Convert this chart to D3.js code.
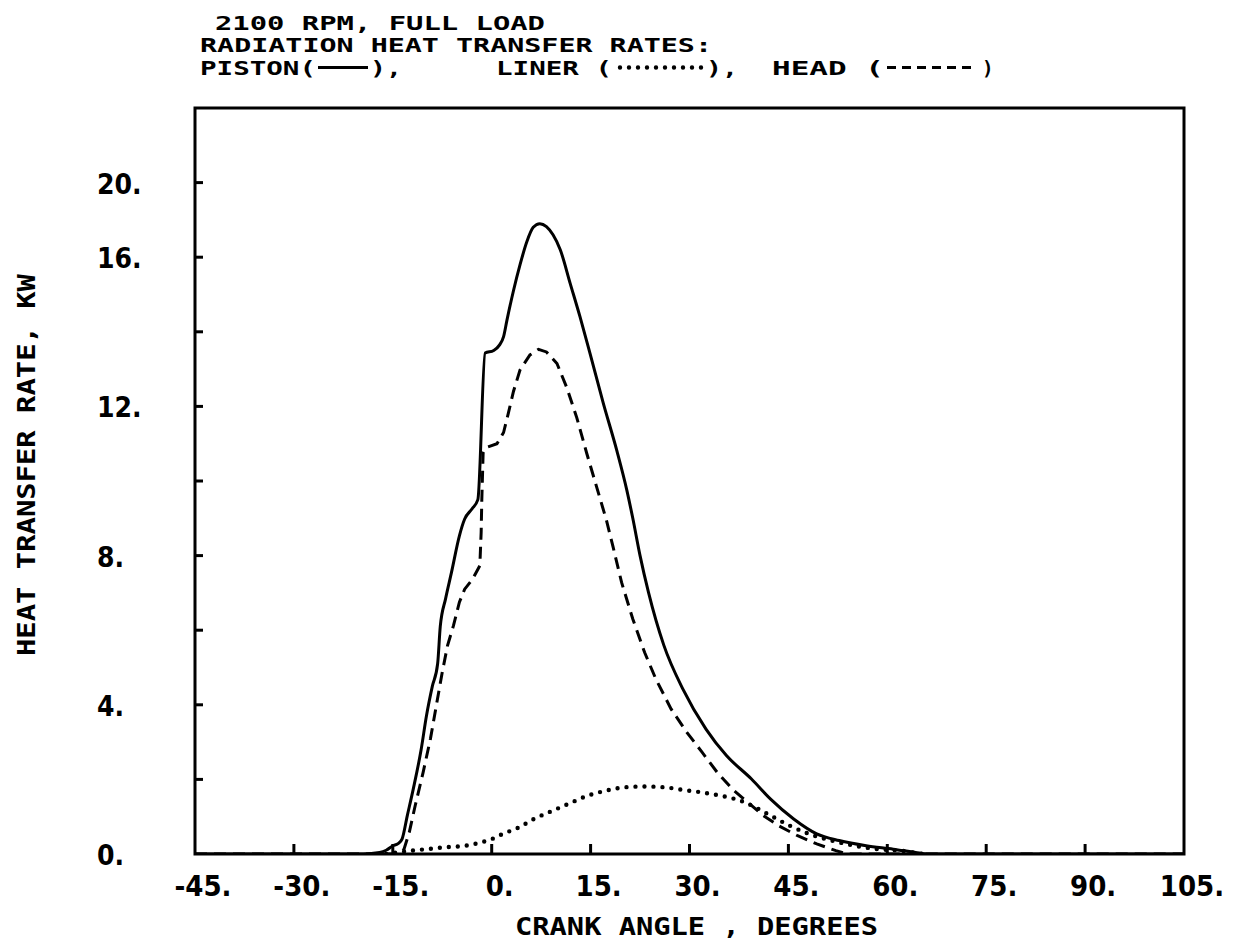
<!DOCTYPE html>
<html>
<head>
<meta charset="utf-8">
<script src="https://cdn.jsdelivr.net/npm/d3@7/dist/d3.min.js"></script>
<style>
  html, body { margin: 0; padding: 0; background: #fff; }
  svg { display: block; }
  .mono { font-family: "DejaVu Sans Mono", monospace; font-weight: bold; fill: #000; }
  .tick { font-family: "DejaVu Sans Condensed", "DejaVu Sans", sans-serif; font-weight: bold; fill: #000; }
</style>
</head>
<body>
<script>
// ---- data ----
const pistonAngle = [-45, -19.5, -17, -16, -15, -14.2, -13.6, -12.8, -11.9, -10.7, -9.9, -9.0, -8.2, -7.8, -7.0, -6.1, -4.9, -4.1, -3.0, -2.1, -1.0, 0.3, 1.2, 1.8, 2.3, 3.3, 4.3, 5.3, 6.3, 7.3, 8.3, 9.3, 10.4, 11.9, 13.4, 14.9, 16.9, 19.0, 20.5, 21.4, 22.5, 23.8, 26.1, 29.0, 32.5, 35.6, 39.4, 42.3, 45.8, 49.3, 52.7, 56.8, 60.9, 64.3, 66.0, 105];
const pistonKW    = [0, 0, 0.04, 0.1, 0.22, 0.28, 0.4, 1.03, 1.74, 2.8, 3.7, 4.5, 5.1, 6.1, 6.84, 7.55, 8.53, 8.98, 9.25, 9.5, 13.43, 13.5, 13.65, 13.87, 14.3, 15.1, 15.8, 16.4, 16.8, 16.9, 16.82, 16.6, 16.2, 15.3, 14.4, 13.43, 12.1, 10.8, 9.75, 9.0, 8.0, 7.0, 5.6, 4.42, 3.35, 2.64, 2.01, 1.47, 0.94, 0.54, 0.36, 0.22, 0.13, 0.04, 0, 0];

const headAngle = [-45, -14.5, -13.9, -13.3, -12.5, -11.6, -10.4, -9.3, -8.4, -7.5, -6.7, -5.8, -4.9, -4.1, -2.9, -1.8, -1.6, -1.5, -1.3, -0.8, 0.8, 1.8, 2.5, 3.3, 4.3, 5.8, 7.1, 8.3, 9.9, 11.4, 12.9, 14.4, 15.9, 17.4, 18.4, 19.7, 21.4, 23.2, 24.9, 27.2, 29.6, 31.9, 34.2, 36.5, 38.8, 41.2, 43.5, 46.4, 49.3, 52.2, 54.0, 105];
const headKW    = [0, 0, 0.03, 0.13, 0.58, 1.3, 2.19, 3.08, 3.98, 4.87, 5.59, 6.12, 6.75, 7.1, 7.37, 7.73, 8.62, 9.5, 10.75, 10.9, 11.0, 11.3, 11.8, 12.4, 12.98, 13.38, 13.53, 13.46, 13.15, 12.5, 11.7, 10.75, 9.85, 8.95, 8.24, 7.28, 6.3, 5.4, 4.69, 3.89, 3.26, 2.73, 2.19, 1.74, 1.39, 1.03, 0.76, 0.49, 0.27, 0.09, 0, 0];

const linerAngle = [-16, -12.2, -9.9, -7, -4.1, -1.7, 0, 1.7, 4.1, 6.4, 8.7, 11.6, 14.5, 17.4, 20.3, 23.2, 26.1, 29, 31.9, 34.8, 37.7, 40, 42.3, 45.2, 48.1, 51.6, 55.1, 58.6, 62, 64.3, 65.5];
const linerKW    = [0, 0.09, 0.13, 0.18, 0.22, 0.31, 0.4, 0.54, 0.71, 0.94, 1.12, 1.34, 1.56, 1.7, 1.79, 1.81, 1.79, 1.72, 1.65, 1.56, 1.43, 1.25, 1.03, 0.76, 0.54, 0.36, 0.22, 0.13, 0.09, 0.03, 0];

const xTickValues = [-45, -30, -15, 0, 15, 30, 45, 60, 75, 90, 105];
const xTickLabels = ["-45.", "-30.", "-15.", "0.", "15.", "30.", "45.", "60.", "75.", "90.", "105."];
const yMinorTicks = [2, 4, 6, 8, 10, 12, 14, 16, 18];
const yTickValues = [0, 4, 8, 12, 16, 18];
const yTickLabels = ["0.", "4.", "8.", "12.", "16.", "20."];

const titleLines = ["2100 RPM, FULL LOAD", "RADIATION HEAT TRANSFER RATES:"];
const legendLabels = ["PISTON(", "),", "LINER (", "),", "HEAD  (", ")"];
const xTitle = "CRANK ANGLE , DEGREES";
const yTitle = "HEAT TRANSFER RATE, KW";

// ---- layout ----
const W = 1233, H = 942;
const L = 195, R = 1184, T = 108, B = 854;
const FS = 19.2;

const svg = d3.select("body").append("svg").attr("width", W).attr("height", H);

const x = d3.scaleLinear().domain([-45, 105]).range([L, R]);
const y = d3.scaleLinear().domain([0, 20]).range([B, T]);

// frame
svg.append("rect").attr("x", L).attr("y", T).attr("width", R - L).attr("height", B - T)
  .attr("fill", "none").attr("stroke", "#000").attr("stroke-width", 3);

// inward ticks
svg.selectAll("line.xt").data(xTickValues.slice(1, -1)).enter().append("line")
  .attr("x1", d => x(d)).attr("x2", d => x(d)).attr("y1", B).attr("y2", B - 10)
  .attr("stroke", "#000").attr("stroke-width", 3);
svg.selectAll("line.yt").data(yMinorTicks).enter().append("line")
  .attr("x1", L).attr("x2", L + 8).attr("y1", d => y(d)).attr("y2", d => y(d))
  .attr("stroke", "#000").attr("stroke-width", 3);

// tick labels
svg.selectAll("text.xl").data(xTickValues).enter().append("text")
  .attr("class", "tick").attr("font-size", 29)
  .attr("x", d => x(d) + 8).attr("y", B + 42).attr("text-anchor", "middle")
  .text((d, i) => xTickLabels[i]);
svg.selectAll("text.yl").data(yTickValues).enter().append("text")
  .attr("class", "tick").attr("font-size", 28)
  .attr("x", 97).attr("y", d => y(d) + 11).attr("text-anchor", "start")
  .text((d, i) => yTickLabels[i]);

// axis titles
svg.append("text").attr("class", "mono").attr("font-size", 25)
  .attr("x", 515).attr("y", 935).attr("textLength", 363).attr("lengthAdjust", "spacingAndGlyphs")
  .text(xTitle);
svg.append("text").attr("class", "mono").attr("font-size", 25)
  .attr("transform", "translate(35,656) rotate(-90)")
  .attr("textLength", 382).attr("lengthAdjust", "spacingAndGlyphs")
  .text(yTitle);

// header
function headText(str, x0, y0, len) {
  const t = svg.append("text").attr("class", "mono").attr("font-size", FS)
    .attr("x", x0).attr("y", y0).text(str);
  if (len) t.attr("textLength", len).attr("lengthAdjust", "spacingAndGlyphs");
  return t;
}
headText(titleLines[0], 215, 29.5, 330);
headText(titleLines[1], 200, 52, 512);

const ly = 74.5;
const legendPos = [
  { lx: 200, len: 116, s0: 318, s1: 368, cx: 370, clen: 32, style: "solid" },
  { lx: 496, len: 116, s0: 620, s1: 703, cx: 706, clen: 32, style: "dot" },
  { lx: 772, len: 112, s0: 887, s1: 972, cx: 982, clen: 0, style: "dash" }
];
function styleLine(sel, style) {
  sel.attr("stroke", "#000").attr("fill", "none");
  if (style === "solid") sel.attr("stroke-width", 3);
  if (style === "dash") sel.attr("stroke-width", 3).attr("stroke-dasharray", "9,6");
  if (style === "dot") sel.attr("stroke-width", 4.4).attr("stroke-linecap", "round").attr("stroke-dasharray", "0,9");
  return sel;
}
legendPos.forEach((p, i) => {
  headText(legendLabels[2 * i], p.lx, ly, p.len);
  headText(legendLabels[2 * i + 1], p.cx, ly, p.clen);
  styleLine(svg.append("line").attr("x1", p.s0).attr("x2", p.s1).attr("y1", ly - 7).attr("y2", ly - 7), p.style);
});

// curves
svg.append("clipPath").attr("id", "pc").append("rect")
  .attr("x", L).attr("y", T).attr("width", R - L).attr("height", B - T);
const g = svg.append("g").attr("clip-path", "url(#pc)");
const mk = (a, v) => a.map((d, i) => [d, v[i]]);
const smooth = d3.line().x(d => x(d[0])).y(d => y(d[1])).curve(d3.curveMonotoneX);
const straight = d3.line().x(d => x(d[0])).y(d => y(d[1]));

styleLine(g.append("path").attr("d", smooth(mk(pistonAngle, pistonKW))), "solid");
styleLine(g.append("path").attr("d", straight(mk(headAngle, headKW))), "dash")
  .attr("stroke-dasharray", "12,7");
styleLine(g.append("path").attr("d", smooth(mk(linerAngle, linerKW))), "dot");
</script>
</body>
</html>
